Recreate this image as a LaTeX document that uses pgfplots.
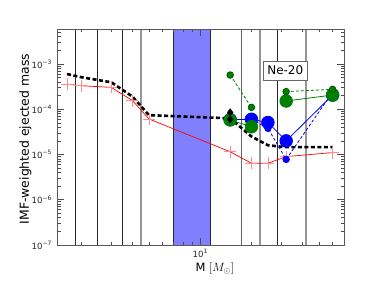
\documentclass[border=0pt]{standalone}
\usepackage{pgfplots}
\pgfplotsset{compat=1.18}
\usepackage{fontspec}
\setmainfont{DejaVu Sans}
\definecolor{mplgreen}{RGB}{0,128,0}
\definecolor{bandblue}{RGB}{128,128,255}
\definecolor{vdark}{RGB}{40,40,40}
\definecolor{vgrey}{RGB}{150,150,150}
\begin{document}
\begin{tikzpicture}
\useasboundingbox (0,0) rectangle (382bp,288bp);
\begin{axis}[
  at={(57.5bp,43bp)}, anchor=south west,
  scale only axis, width=286.5bp, height=216bp,
  xmode=log, ymode=log,
  xmin=1.45, xmax=70, ymin=1e-7, ymax=5.93e-3,
  axis on top,
  axis line style={black!65, line width=0.8bp},
  unbounded coords=jump,
  xtick={10}, xticklabels={10\textsuperscript{1}},
  minor xtick={2,3,4,5,6,7,8,9,20,30,40,50,60,70},
  ytick={1e-7,1e-6,1e-5,1e-4,1e-3},
  yticklabels={10\textsuperscript{−7},10\textsuperscript{−6},10\textsuperscript{−5},10\textsuperscript{−4},10\textsuperscript{−3}},
  minor ytick={2e-7,3e-7,4e-7,5e-7,6e-7,7e-7,8e-7,9e-7,
               2e-6,3e-6,4e-6,5e-6,6e-6,7e-6,8e-6,9e-6,
               2e-5,3e-5,4e-5,5e-5,6e-5,7e-5,8e-5,9e-5,
               2e-4,3e-4,4e-4,5e-4,6e-4,7e-4,8e-4,9e-4,
               2e-3,3e-3,4e-3,5e-3},
  major tick length=7bp, minor tick length=3.5bp,
  every tick/.style={black!70, line width=0.7bp},
  tick label style={font=\fontsize{8.6}{9.5}\selectfont, black!85},
  xticklabel style={yshift=-1bp},
  yticklabel style={xshift=-2bp},
  xlabel={M $[M_{\odot}]$},
  ylabel={IMF-weighted ejected mass},
  xlabel style={font=\fontsize{11.5}{12}\selectfont, at={(axis description cs:0.549,-0.109)}, anchor=center},
  ylabel style={font=\fontsize{12.5}{14}\selectfont, at={(axis description cs:-0.112,0.49)}, anchor=center},
  clip=true,
]
% blue band
\addplot[fill=bandblue, draw=vdark, line width=0.9bp] coordinates {(7,1e-7) (11.45,1e-7) (11.45,5.93e-3) (7,5.93e-3)} -- cycle;
% vertical lines
\addplot[vdark, line width=0.9bp] coordinates {(1.85,1e-7) (1.85,5.93e-3)};
\addplot[vdark, line width=0.9bp] coordinates {(2.5,1e-7) (2.5,5.93e-3)};
\addplot[vdark, line width=0.9bp] coordinates {(3.5,1e-7) (3.5,5.93e-3)};
\addplot[vgrey, line width=1.6bp] coordinates {(4.5,1e-7) (4.5,5.93e-3)};
\addplot[black!60, line width=1bp] coordinates {(17.4,1e-7) (17.4,5.93e-3)};
\addplot[vgrey, line width=1.6bp] coordinates {(22.5,1e-7) (22.5,5.93e-3)};
\addplot[vdark, line width=0.9bp] coordinates {(28.5,1e-7) (28.5,5.93e-3)};
\addplot[vgrey, line width=1.6bp] coordinates {(42,1e-7) (42,5.93e-3)};
% red line with crosses
\addplot[red, line width=0.7bp, mark=+, mark size=6bp, mark options={color=red!45, line width=0.8bp}] coordinates {
(1.65,3.6e-4) (2,3.3e-4) (3,3.05e-4) (4,1.55e-4) (5,6.1e-5) (15,1.15e-5) (20,6.4e-6) (25,6.4e-6) (32,9.0e-6) (60,1.1e-5)};
% black dashed thick
\addplot[black, line width=2.6bp, dash pattern=on 4bp off 2.5bp] coordinates {
(1.65,6.0e-4) (2,5.1e-4) (3,3.95e-4) (4,1.9e-4) (5,7.4e-5) (15,6.3e-5) (20,2.5e-5) (25,1.6e-5) (32,1.45e-5) (60,1.45e-5)};
% blue large solid
\addplot[blue, line width=0.8bp, mark=*, mark size=6.3bp, mark options={solid, fill=blue}] coordinates {
(15,5.9e-5) (20,6.0e-5) (25,5.1e-5) (32,2.0e-5) (60,2.06e-4)};
% blue small dashed
\addplot[blue, line width=0.8bp, dash pattern=on 3bp off 2bp, mark=*, mark size=3.3bp, mark options={solid, fill=blue}] coordinates {
(20,6.0e-5) (25,3.8e-5) (32,7.8e-6) (60,2.4e-4)};
% green large solid
\addplot[mplgreen, line width=0.8bp, mark=*, mark size=6.3bp, mark options={solid, fill=mplgreen}] coordinates {
(15,5.8e-5) (20,4.1e-5) (25,nan) (32,1.52e-4) (60,2.06e-4)};
% green small dashed
\addplot[mplgreen, line width=0.8bp, dash pattern=on 3bp off 2bp, mark=*, mark size=3.3bp, mark options={solid, fill=mplgreen, draw=mplgreen!70!black}] coordinates {
(15,5.7e-4) (20,1.1e-4) (25,nan) (32,2.45e-4) (60,2.75e-4)};
% black diamonds
\addplot[only marks, black, mark=diamond*, mark size=3.8bp] coordinates {(15,8.5e-5) (15,6.0e-5)};
% label
\node[draw=black!60, fill=white, line width=0.8bp, minimum width=44bp, minimum height=19bp, inner sep=0pt, font=\fontsize{12}{13}\selectfont] at (axis cs:31.6,7.2e-4) {Ne-20};
\end{axis}
\end{tikzpicture}
\end{document}
